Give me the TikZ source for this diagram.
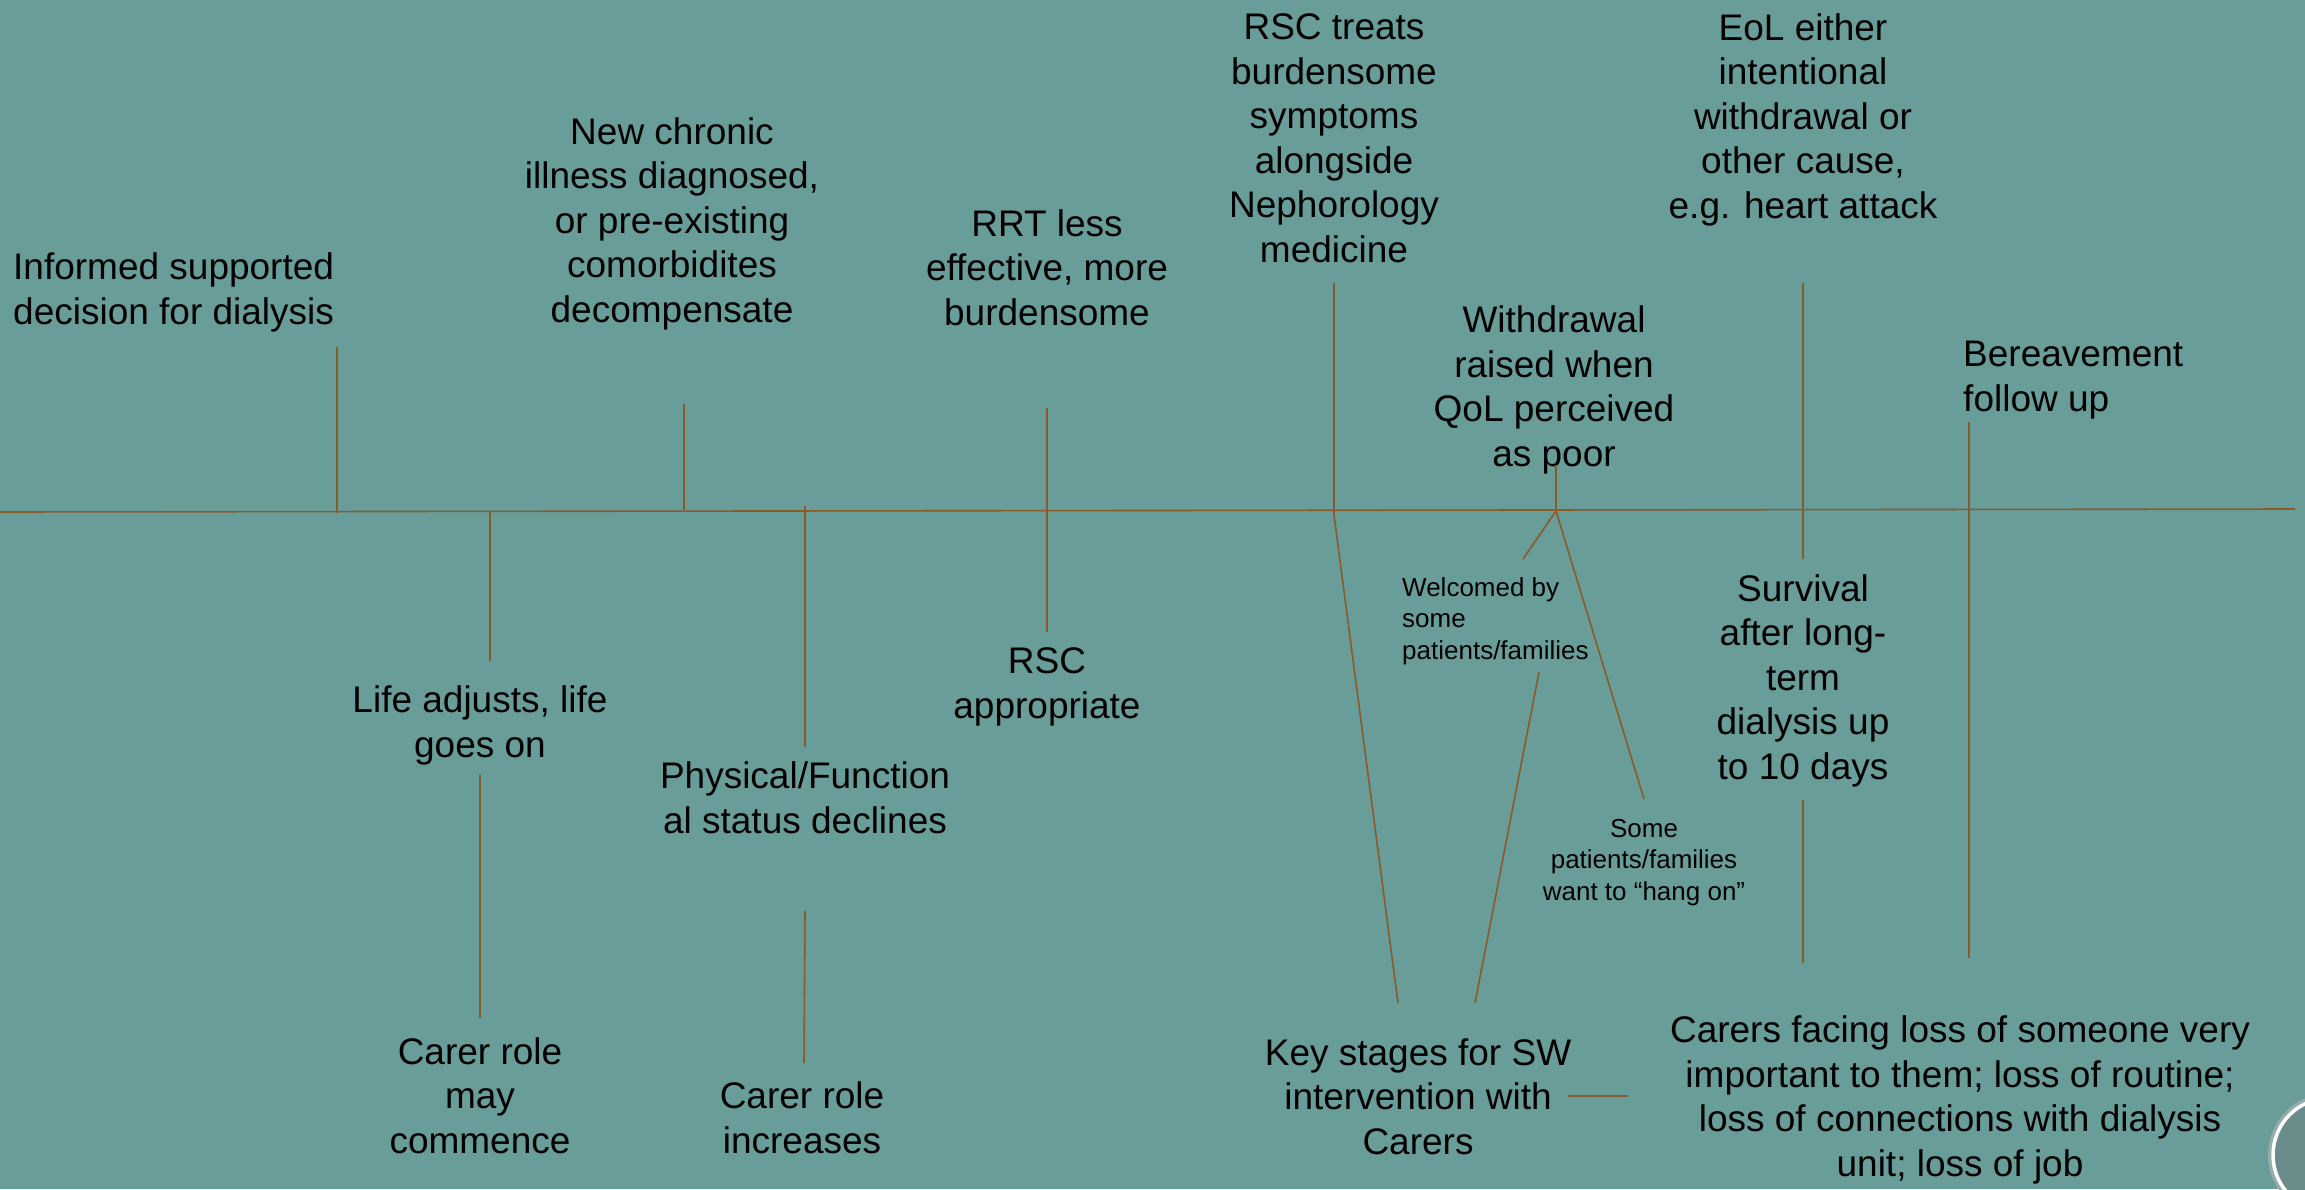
\documentclass[tikz,border=0pt]{standalone}
\usepackage{fontspec}
\setmainfont{Liberation Sans}

\definecolor{slide}{RGB}{104,157,154}
\definecolor{rule}{RGB}{139,90,43}
\definecolor{disc}{RGB}{106,141,139}
\definecolor{discrim}{RGB}{150,172,170}

\begin{document}
\begin{tikzpicture}[x=1pt,y=-1pt]

\tikzstyle{stage}=[inner sep=0pt,align=center,anchor=base,font=\fontsize{37}{44.5}\selectfont]
\tikzstyle{stageleft}=[stage,align=left,anchor=base west]
\tikzstyle{remark}=[stage,font=\fontsize{26}{31.5}\selectfont]
\tikzstyle{link}=[draw=rule,line width=1.6pt]

%Slide
\useasboundingbox (0,0) rectangle (2305,1189);
\fill[slide] (0,0) rectangle (2305,1189);
\begin{scope}
\clip (0,0) rectangle (2305,1189);
\coordinate (corner) at (2330,1155);
\fill[discrim] (corner) circle (62);
\fill[disc] (corner) circle (56);
\draw[white,line width=3.5pt] (corner) circle (57);
\end{scope}

%Time line
\coordinate (start) at (0,512);
\coordinate (end) at (2295,509);
\draw[link] (start) -- (end);

%Above the line (positions give the last baseline)
\node[stageleft] (decision) at (13,324) {Informed supported\\decision for dialysis};
\node[stage] (chronic) at (672,322) {New chronic\\illness diagnosed,\\or pre-existing\\comorbidites\\decompensate};
\node[stage] (rrt) at (1047,325) {RRT less\\effective, more\\burdensome};
\node[stage] (rsctreats) at (1334,262) {RSC treats\\burdensome\\symptoms\\alongside\\Nephorology\\medicine};
\node[stage] (withdrawal) at (1554,466) {Withdrawal\\raised when\\QoL perceived\\as poor};
\node[stage] (eol) at (1803,218) {EoL either\\intentional\\withdrawal or\\other cause,\\e.g. heart attack};
\node[stageleft] (bereavement) at (1963,411) {Bereavement\\follow up};

%Below the line
\node[stage] (adjusts) at (480,757) {Life adjusts, life\\goes on};
\node[stage] (commence) at (480,1153) {Carer role\\may\\commence};
\node[stage] (declines) at (805,833) {Physical/Function\\al status declines};
\node[stage] (increases) at (802,1153) {Carer role\\increases};
\node[stage] (appropriate) at (1047,718) {RSC\\appropriate};
\node[remark,align=left,anchor=base west] (welcomed) at (1402,659) {Welcomed by\\some\\patients/families};
\node[remark] (hangon) at (1644,900) {Some\\patients/families\\want to “hang on”};
\node[stage] (survival) at (1803,779) {Survival\\after long-\\term\\dialysis up\\to 10 days};
\node[stage] (keystages) at (1418,1154) {Key stages for SW\\intervention with\\Carers};
\node[stage] (facing) at (1960,1176) {Carers facing loss of someone very\\important to them; loss of routine;\\loss of connections with dialysis\\unit; loss of job};

%Tick ends
\coordinate (decisiontop) at (337,347);
\coordinate (decisionbot) at (337,513);
\coordinate (chronictop) at (684,404);
\coordinate (chronicbot) at (684,510);
\coordinate (rrttop) at (1047,408);
\coordinate (rrtbot) at (1047,632);
\coordinate (rsctop) at (1334,283);
\coordinate (rscbot) at (1334,515);
\coordinate (rscfoot) at (1398,1003);
\coordinate (withtop) at (1556,465);
\coordinate (withbot) at (1556,511);
\coordinate (welcomedtip) at (1523,559);
\coordinate (hangontip) at (1644,799);
\coordinate (welcomedfoot) at (1539,672);
\coordinate (keyfoot) at (1475,1003);
\coordinate (eoltop) at (1803,283);
\coordinate (eolbot) at (1803,559);
\coordinate (survivalbot) at (1803,800);
\coordinate (survivalfoot) at (1803,963);
\coordinate (bereavetop) at (1969,422);
\coordinate (bereavebot) at (1969,958);
\coordinate (adjuststop) at (490,512);
\coordinate (adjustsbot) at (490,661);
\coordinate (carertop) at (480,775);
\coordinate (carerbot) at (480,1018);
\coordinate (declinestop) at (805,506);
\coordinate (declinesbot) at (805,747);
\coordinate (increasetop) at (805,911);
\coordinate (increasebot) at (804,1063);
\coordinate (keyleft) at (1568,1096);
\coordinate (keyright) at (1628,1096);

%Connections
\draw[link] (decisiontop) -- (decisionbot);
\draw[link] (chronictop) -- (chronicbot);
\draw[link] (rrttop) -- (rrtbot);
\draw[link] (rsctop) -- (rscbot);
\draw[link] (rscbot) -- (rscfoot);
\draw[link] (withtop) -- (withbot);
\draw[link] (withbot) -- (welcomedtip);
\draw[link] (withbot) -- (hangontip);
\draw[link] (welcomedfoot) -- (keyfoot);
\draw[link] (eoltop) -- (eolbot);
\draw[link] (survivalbot) -- (survivalfoot);
\draw[link] (bereavetop) -- (bereavebot);
\draw[link] (adjuststop) -- (adjustsbot);
\draw[link] (carertop) -- (carerbot);
\draw[link] (declinestop) -- (declinesbot);
\draw[link] (increasetop) -- (increasebot);
\draw[link] (keyleft) -- (keyright);

\end{tikzpicture}
\end{document}
